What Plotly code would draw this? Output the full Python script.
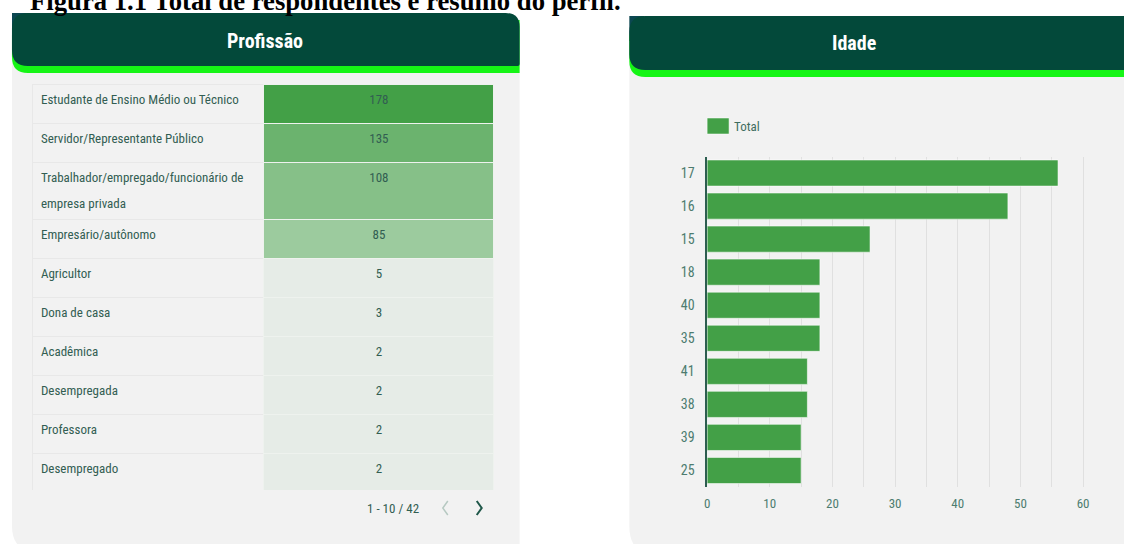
import plotly.graph_objects as go

W, H = 1124, 544

# ---------------- data ----------------
profissoes = [
    "Estudante de Ensino Médio ou Técnico",
    "Servidor/Representante Público",
    "Trabalhador/empregado/funcionário de<br>empresa privada",
    "Empresário/autônomo",
    "Agricultor",
    "Dona de casa",
    "Acadêmica",
    "Desempregada",
    "Professora",
    "Desempregado",
]
profissao_total = [178, 135, 108, 85, 5, 3, 2, 2, 2, 2]

idades = ["17", "16", "15", "18", "40", "35", "41", "38", "39", "25"]
idade_total = [56, 48, 26, 18, 18, 18, 16, 16, 15, 15]

caption = "Figura 1.1 Total de respondentes e resumo do perfil."
title_left = "Profissão"
title_right = "Idade"
legend_label = "Total"
pagination = "1 - 10 / 42"

# ---------------- helpers ----------------
def px(x):
    return x / W


def py(y):
    return 1 - y / H


def rrect(x0, y0, x1, y1, tl=0, tr=0, br=0, bl=0):
    pts = [
        f"M{px(x0 + tl)},{py(y0)}",
        f"L{px(x1 - tr)},{py(y0)}",
        f"Q{px(x1)},{py(y0)} {px(x1)},{py(y0 + tr)}",
        f"L{px(x1)},{py(y1 - br)}",
        f"Q{px(x1)},{py(y1)} {px(x1 - br)},{py(y1)}",
        f"L{px(x0 + bl)},{py(y1)}",
        f"Q{px(x0)},{py(y1)} {px(x0)},{py(y1 - bl)}",
        f"L{px(x0)},{py(y0 + tl)}",
        f"Q{px(x0)},{py(y0)} {px(x0 + tl)},{py(y0)}",
        "Z",
    ]
    return " ".join(pts)


FONT = "Roboto Condensed, Liberation Sans Narrow, DejaVu Sans Condensed, Arial Narrow, Roboto, sans-serif"
TXT = "#325e52"
DARK = "#03493a"
NEON = "#16f516"
PANEL = "#f2f2f2"
BAR = "#43a047"


def cell_color(v):
    if v >= 170:
        return "#43a047"
    if v >= 130:
        return "#6bb36e"
    if v >= 100:
        return "#86c088"
    if v >= 80:
        return "#9ccb9e"
    return "#e6ece7"


def cell_text(t):
    # 13px text inside a larger declared cell font -> text sits near the row's middle;
    # a <br> is always present so that plotly keeps the markup and does not re-wrap.
    parts = str(t).split("<br>")
    s = "<br>".join(f'<span style="font-size:13px">{p}</span>' for p in parts)
    if len(parts) == 1:
        s += "<br>"
    return s


label_txt = [cell_text(p) for p in profissoes]
value_txt = [cell_text(v) for v in profissao_total]

fig = go.Figure()

# ---------------- table (Profissão) ----------------
fig.add_trace(go.Table(
    domain=dict(x=[px(30), px(493)], y=[py(490), py(68)]),
    columnwidth=[232, 231],
    header=dict(values=[], height=0, line=dict(width=0), fill=dict(color="rgba(0,0,0,0)")),
    cells=dict(
        values=[label_txt, value_txt],
        height=39,
        align=["left", "center"],
        fill=dict(color=[[PANEL] * len(profissoes), [cell_color(v) for v in profissao_total]]),
        line=dict(color=["#e8e8e8", "#eef2ee"], width=1),
        font=dict(family=FONT, size=20, color=TXT),
    ),
))

# ---------------- bars (Idade) ----------------
fig.add_trace(go.Bar(
    x=idade_total,
    y=idades,
    orientation="h",
    marker=dict(color=BAR, line=dict(color="rgba(255,255,255,0.55)", width=1)),
    showlegend=False,
    hoverinfo="x+y",
))

fig.update_layout(
    width=W, height=H,
    margin=dict(l=0, r=0, t=0, b=0),
    paper_bgcolor="white",
    plot_bgcolor="rgba(0,0,0,0)",
    bargap=0.21,
    showlegend=False,
    font=dict(family=FONT, color=TXT),
    xaxis=dict(
        domain=[px(706), px(706 + 61 * 6.283)],
        range=[0, 61],
        dtick=10,
        showgrid=True, gridcolor="#e0e0e0", gridwidth=1,
        minor=dict(dtick=5, showgrid=True, gridcolor="#e0e0e0", gridwidth=1),
        zeroline=False,
        showline=False,
        ticks="",
        ticklabelstandoff=7,
        tickfont=dict(family=FONT, size=13, color="#4d7c6f"),
        fixedrange=True,
    ),
    yaxis=dict(
        domain=[py(487), py(156.5)],
        type="category",
        categoryorder="array",
        categoryarray=idades,
        autorange="reversed",
        showgrid=False,
        zeroline=False,
        showline=True, linecolor="#2d5e50", linewidth=1.5,
        ticks="",
        ticklabelstandoff=8,
        tickfont=dict(family=FONT, size=14, color="#4d7c6f"),
        fixedrange=True,
    ),
)

P = dict(xref="paper", yref="paper")
shapes = []
# panel backgrounds
shapes.append(dict(type="path", path=rrect(9, 30, 518, 552, bl=26), fillcolor=PANEL, line=dict(width=0), layer="below", **P))
shapes.append(dict(type="path", path=rrect(628, 30, 1140, 556, bl=30), fillcolor=PANEL, line=dict(width=0), layer="below", **P))
# header corner tints
shapes.append(dict(type="rect", x0=px(9), x1=px(24), y0=py(38), y1=py(13), fillcolor="#0c4751", line=dict(width=0), layer="below", **P))
shapes.append(dict(type="rect", x0=px(628), x1=px(643), y0=py(41), y1=py(16), fillcolor="#0c4751", line=dict(width=0), layer="below", **P))
# headers (neon underlay + dark)
shapes.append(dict(type="path", path=rrect(9, 20, 518, 73, tl=16, bl=16), fillcolor=NEON, line=dict(width=0), layer="below", **P))
shapes.append(dict(type="path", path=rrect(9, 13, 518, 66, tl=16, tr=14, bl=16, br=2), fillcolor=DARK, line=dict(width=0), layer="below", **P))
shapes.append(dict(type="path", path=rrect(628, 23, 1140, 77, tl=16, bl=16), fillcolor=NEON, line=dict(width=0), layer="below", **P))
shapes.append(dict(type="path", path=rrect(628, 16, 1140, 70, tl=16, tr=14, bl=16, br=2), fillcolor=DARK, line=dict(width=0), layer="below", **P))
# legend swatch
shapes.append(dict(type="rect", x0=px(706), x1=px(728), y0=py(134), y1=py(118), fillcolor=BAR,
                   line=dict(color="rgba(255,255,255,0.5)", width=1), **P))
# pagination chevrons
shapes.append(dict(type="path", path=f"M{px(446)},{py(501)} L{px(441)},{py(508)} L{px(446)},{py(515)}",
                   line=dict(color="#b7c9c2", width=1.5), **P))
shapes.append(dict(type="path", path=f"M{px(475)},{py(501)} L{px(480)},{py(508)} L{px(475)},{py(515)}",
                   line=dict(color="#1f5749", width=2), **P))
fig.update_layout(shapes=shapes)

annotations = [
    dict(text=f"<b>{caption}</b>", x=px(25), y=py(1), xanchor="left", yanchor="middle",
         showarrow=False, font=dict(family="Liberation Serif, Times New Roman, serif", size=26.7, color="black"), **P),
    dict(text=f"<b>{title_left}</b>", x=px(263), y=py(41), xanchor="center", yanchor="middle", showarrow=False,
         font=dict(family=FONT, size=20, color="white"), **P),
    dict(text=f"<b>{title_right}</b>", x=px(853), y=py(43), xanchor="center", yanchor="middle", showarrow=False,
         font=dict(family=FONT, size=20, color="white"), **P),
    dict(text=legend_label, x=px(731), y=py(126), xanchor="left", yanchor="middle", showarrow=False,
         font=dict(family=FONT, size=13, color="#3f6d60"), **P),
    dict(text=pagination, x=px(391), y=py(508), xanchor="center", yanchor="middle", showarrow=False,
         font=dict(family=FONT, size=13, color=TXT), **P),
]
fig.update_layout(annotations=annotations)

fig.write_html("out.html")
